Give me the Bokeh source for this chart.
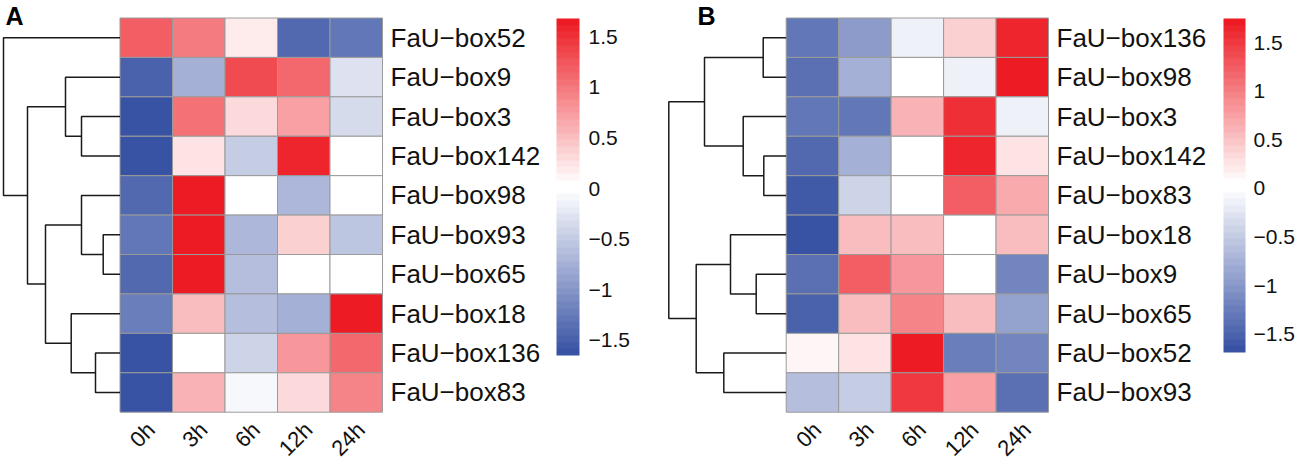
import numpy as np
from bokeh.plotting import figure
from bokeh.models import ColumnDataSource, Range1d, LinearColorMapper, ColorBar, FixedTicker
from bokeh.layouts import row
from bokeh.core.properties import value
from bokeh.embed import file_html
from bokeh.resources import INLINE

# ---------------- data ----------------
times = ["0h", "3h", "6h", "12h", "24h"]

genes_a = ["FaU\u2212box52", "FaU\u2212box9", "FaU\u2212box3", "FaU\u2212box142", "FaU\u2212box98",
           "FaU\u2212box93", "FaU\u2212box65", "FaU\u2212box18", "FaU\u2212box136", "FaU\u2212box83"]
box52_a = [1.2, 1.0, 0.2, -1.4, -1.3]
box9_a = [-1.5, -0.75, 1.3, 1.1, -0.3]
box3_a = [-1.65, 1.05, 0.3, 0.7, -0.38]
box142_a = [-1.6, 0.25, -0.5, 1.55, 0.06]
box98_a = [-1.45, 1.68, 0.08, -0.7, 0.03]
box93_a = [-1.3, 1.66, -0.7, 0.4, -0.55]
box65_a = [-1.4, 1.64, -0.6, 0.04, -0.05]
box18_a = [-1.25, 0.5, -0.65, -0.72, 1.66]
box136_a = [-1.62, -0.03, -0.4, 0.8, 1.1]
box83_a = [-1.62, 0.58, -0.1, 0.3, 0.92]
values_a = [box52_a, box9_a, box3_a, box142_a, box98_a, box93_a, box65_a, box18_a, box136_a, box83_a]
# row-dendrogram merges (child, child, height) for panel A
link_a = [(2, 3, 38.5), (5, 6, 16.8), (8, 9, 24.5), (1, 10, 54.5), (4, 11, 38.5),
          (7, 12, 48.8), (14, 15, 74.5), (13, 16, 92.5), (0, 17, 116.5)]

genes_b = ["FaU\u2212box136", "FaU\u2212box98", "FaU\u2212box3", "FaU\u2212box142", "FaU\u2212box83",
           "FaU\u2212box18", "FaU\u2212box9", "FaU\u2212box65", "FaU\u2212box52", "FaU\u2212box93"]
box136_b = [-1.3, -1.0, -0.15, 0.38, 1.62]
box98_b = [-1.35, -0.75, 0.06, -0.15, 1.75]
box3_b = [-1.3, -1.3, 0.62, 1.55, -0.15]
box142_b = [-1.45, -0.75, -0.02, 1.68, 0.25]
box83_b = [-1.62, -0.4, 0.08, 1.22, 0.65]
box18_b = [-1.69, 0.55, 0.55, 0.03, 0.55]
box9_b = [-1.4, 1.2, 0.82, -0.02, -1.15]
box65_b = [-1.55, 0.55, 0.98, 0.55, -0.9]
box52_b = [0.1, 0.25, 1.72, -1.25, -1.2]
box93_b = [-0.6, -0.5, 1.5, 0.75, -1.4]
values_b = [box136_b, box98_b, box3_b, box142_b, box83_b, box18_b, box9_b, box65_b, box52_b, box93_b]
link_b = [(0, 1, 23.0), (3, 4, 22.4), (2, 11, 43.0), (10, 12, 81.7), (6, 7, 30.0),
          (5, 14, 55.7), (8, 9, 62.4), (15, 16, 90.0), (13, 17, 117.4)]

cb_ticks = [-1.5, -1, -0.5, 0, 0.5, 1, 1.5]
cb_labels = ["\u22121.5", "\u22121", "\u22120.5", "0", "0.5", "1", "1.5"]

# ---------------- style ----------------
FONT = "Liberation Sans"
BLUE = np.array([57, 83, 164])
WHITE = np.array([255, 255, 255])
RED = np.array([237, 28, 36])
H = 464


def make_palette(n=50):
    half = n // 2
    cols = []
    for t in np.linspace(0, 1, half):
        c = BLUE + (WHITE - BLUE) * t
        cols.append("#%02x%02x%02x" % tuple(int(round(v)) for v in c))
    for t in np.linspace(0, 1, n - half):
        c = WHITE + (RED - WHITE) * t
        cols.append("#%02x%02x%02x" % tuple(int(round(v)) for v in c))
    return cols


PALETTE = make_palette(50)


def dendro_lines(link, n, scale):
    pos = {i: i + 0.5 for i in range(n)}
    hgt = {i: 0.0 for i in range(n)}
    xs, ys = [], []
    for k, (a, b, h) in enumerate(link):
        cid = n + k
        xs.append([-hgt[a] * scale, -h * scale, -h * scale, -hgt[b] * scale])
        ys.append([pos[a], pos[a], pos[b], pos[b]])
        pos[cid] = (pos[a] + pos[b]) / 2
        hgt[cid] = h
    return xs, ys


def panel(genes, values, link, width, x_start, col_px, letter, letter_px,
          cb_loc, cb_w, cb_h, cb_standoff):
    nrow, ncol = len(genes), len(times)
    row_px = 39.42
    x_end = x_start + width / col_px
    y_top = -17.5 / row_px
    y_bot = y_top + H / row_px
    p = figure(width=width, height=H,
               x_range=Range1d(x_start, x_end), y_range=Range1d(y_bot, y_top),
               output_backend="svg", toolbar_location=None, min_border=0,
               x_axis_location=None, y_axis_location=None, outline_line_color=None)
    p.xgrid.grid_line_color = None
    p.ygrid.grid_line_color = None
    p.grid.visible = False
    arr = np.array(values, dtype=float)
    mapper = LinearColorMapper(palette=PALETTE, low=float(arr.min()), high=float(arr.max()))

    xs_c, ys_c, vs = [], [], []
    for r in range(nrow):
        for c in range(ncol):
            xs_c.append(c + 0.5)
            ys_c.append(r + 0.5)
            vs.append(arr[r, c])
    src = ColumnDataSource(dict(x=xs_c, y=ys_c, v=vs))
    p.rect(x="x", y="y", width=1, height=1, source=src,
           fill_color={"field": "v", "transform": mapper},
           line_color="#9a9a9a", line_width=1)

    dx, dy = dendro_lines(link, nrow, 1.0 / col_px)
    p.multi_line(xs=dx, ys=dy, line_color="#1a1a1a", line_width=1.5)

    # row names
    p.text(x=[ncol] * nrow, y=[r + 0.5 for r in range(nrow)], text=genes,
           x_offset=8, text_baseline="middle", text_align="left",
           text_font=value(FONT), text_font_size="26px", text_color="#111111")
    # column names (rotated 45 degrees, reading upward)
    p.text(x=[c + 0.5 for c in range(ncol)], y=[nrow] * ncol, text=times,
           angle=np.pi / 4, text_align="right", text_baseline="top",
           x_offset=-4, y_offset=5,
           text_font=value(FONT), text_font_size="22px", text_color="#111111")
    # panel letter
    p.text(x=[x_start], y=[y_top], text=[letter], x_offset=letter_px, y_offset=15,
           text_baseline="alphabetic", text_align="left",
           text_font=value(FONT), text_font_size="25px", text_font_style="bold",
           text_color="#000000")

    cb = ColorBar(color_mapper=mapper, location=cb_loc, width=cb_w, height=cb_h,
                  padding=0, margin=0, ticker=FixedTicker(ticks=cb_ticks),
                  major_label_overrides={t: l for t, l in zip(cb_ticks, cb_labels)},
                  major_label_text_font=FONT, major_label_text_font_size="21px",
                  major_label_text_color="#111111",
                  major_tick_line_color=None, minor_tick_line_color=None,
                  bar_line_color=None, border_line_color=None,
                  background_fill_color=None, label_standoff=cb_standoff)
    p.add_layout(cb)
    return p


pa = panel(genes_a, values_a, link_a, 660, -119.5 / 52.5, 52.5, "A", 5,
           (556, 109), 23, 337, 9)
pb = panel(genes_b, values_b, link_b, 639, -125.7 / 52.46, 52.46, "B", 37,
           (563, 112), 22, 334, 8)

layout = row(pa, pb)
open("out.html", "w").write(file_html(layout, INLINE))
